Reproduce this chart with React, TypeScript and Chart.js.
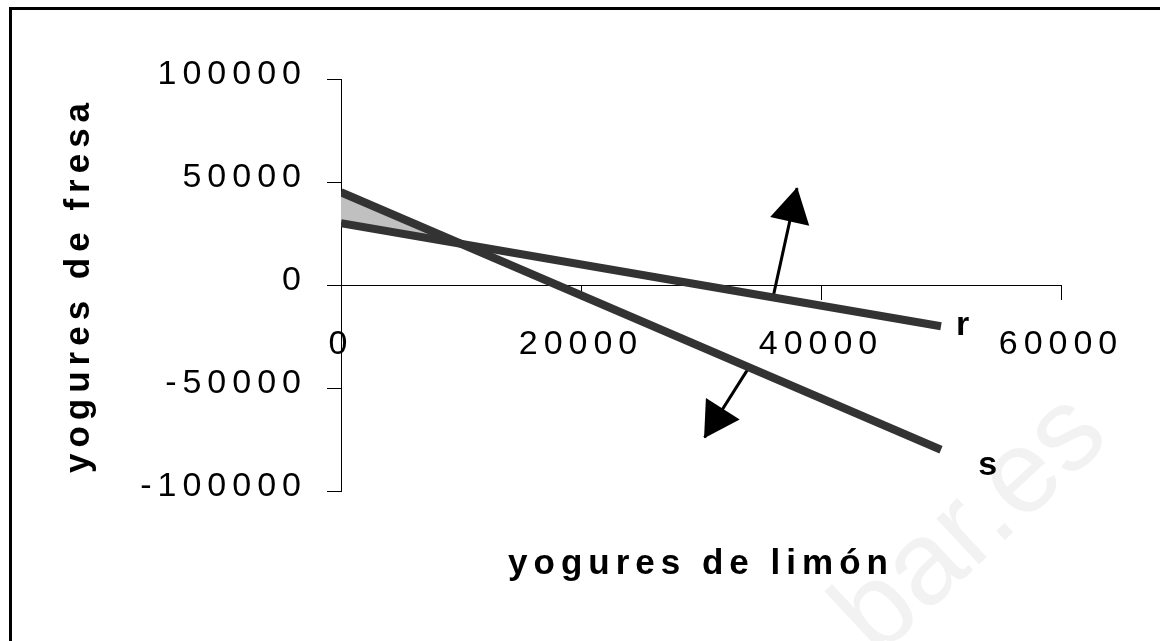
import React, { useEffect, useRef } from 'react';
import { Chart, registerables } from 'chart.js';

Chart.register(...registerables);

// ---- data ----
const xTickValues = [0, 20000, 40000, 60000];
const yTickValues = [-100000, -50000, 0, 50000, 100000];
const lineR = [{ x: 0, y: 30000 }, { x: 50000, y: -20000 }];
const lineS = [{ x: 0, y: 45000 }, { x: 50000, y: -80000 }];
const feasibleRegion = [{ x: 0, y: 30000 }, { x: 0, y: 45000 }, { x: 10000, y: 20000 }];
const arrowR = [{ x: 36000, y: -6000 }, { x: 38000, y: 47000 }];
const arrowS = [{ x: 34000, y: -40000 }, { x: 30300, y: -74000 }];
const lineLabels = ['r', 's'];
const lineLabelX = [51800, 53900];
const lineLabelY = [-19800, -87600];
const xTitle = 'yogures de limón';
const yTitle = 'yogures de fresa';
const watermarkText = 'bar.es';

const FAMILY = "'Liberation Sans', Arial, sans-serif";
const SPACING = '6px';

const letterSpacingPlugin = {
  id: 'letterSpacing',
  beforeLayout(chart: any) { chart.ctx.letterSpacing = SPACING; },
  beforeDraw(chart: any) { chart.ctx.letterSpacing = SPACING; },
};

const watermarkPlugin = {
  id: 'watermark',
  beforeDraw(chart: any) {
    const ctx = chart.ctx;
    ctx.save();
    ctx.letterSpacing = '0px';
    ctx.translate(1112, 440);
    ctx.rotate(-43 * Math.PI / 180);
    ctx.font = `118px ${FAMILY}`;
    ctx.fillStyle = '#f2f2f2';
    ctx.textAlign = 'right';
    ctx.textBaseline = 'alphabetic';
    ctx.fillText(watermarkText, 0, 0);
    ctx.restore();
  },
};

const arrowHeadPlugin = {
  id: 'arrowHeads',
  afterDatasetsDraw(chart: any) {
    const ctx = chart.ctx;
    chart.data.datasets.forEach((ds: any, i: number) => {
      if (!ds.isArrow) return;
      const pts = chart.getDatasetMeta(i).data;
      const a = pts[0];
      const b = pts[1];
      const dx = b.x - a.x;
      const dy = b.y - a.y;
      const len = Math.hypot(dx, dy);
      const ux = dx / len;
      const uy = dy / len;
      const nx = -uy;
      const ny = ux;
      const hl = 34;
      const hw = 20;
      ctx.save();
      ctx.beginPath();
      ctx.moveTo(b.x + ux * 1, b.y + uy * 1);
      ctx.lineTo(b.x - ux * hl + nx * hw, b.y - uy * hl + ny * hw);
      ctx.lineTo(b.x - ux * hl - nx * hw, b.y - uy * hl - ny * hw);
      ctx.closePath();
      ctx.fillStyle = '#000';
      ctx.fill();
      ctx.restore();
    });
  },
};

const lineLabelPlugin = {
  id: 'lineLabels',
  afterDatasetsDraw(chart: any) {
    const { ctx } = chart;
    const xs = chart.scales.x;
    const ys = chart.scales.y;
    ctx.save();
    ctx.letterSpacing = '0px';
    ctx.font = `bold 34px ${FAMILY}`;
    ctx.fillStyle = '#000';
    ctx.textAlign = 'center';
    ctx.textBaseline = 'middle';
    lineLabels.forEach((t, i) => {
      ctx.fillText(t, xs.getPixelForValue(lineLabelX[i]), ys.getPixelForValue(lineLabelY[i]));
    });
    ctx.restore();
  },
};

export default function App() {
  const ref = useRef<HTMLCanvasElement>(null);

  useEffect(() => {
    const canvas = ref.current!;
    const chart = new Chart(canvas, {
      type: 'scatter',
      data: {
        datasets: [
          {
            label: 'r', data: lineR, showLine: true, borderColor: '#333333', backgroundColor: '#333333',
            borderWidth: 8, pointRadius: 0, borderCapStyle: 'butt', fill: false,
          } as any,
          {
            label: 's', data: lineS, showLine: true, borderColor: '#333333', backgroundColor: '#333333',
            borderWidth: 8, pointRadius: 0, borderCapStyle: 'butt', fill: false,
          } as any,
          {
            label: 'arrowR', isArrow: true, data: arrowR, showLine: true, borderColor: '#000', backgroundColor: '#000',
            borderWidth: 3, pointRadius: 0, fill: false,
          } as any,
          {
            label: 'arrowS', isArrow: true, data: arrowS, showLine: true, borderColor: '#000', backgroundColor: '#000',
            borderWidth: 3, pointRadius: 0, fill: false,
          } as any,
          {
            label: 'region', data: feasibleRegion, showLine: true, borderColor: 'rgba(0,0,0,0)', backgroundColor: '#c0c0c0',
            borderWidth: 0, pointRadius: 0, fill: 'shape',
          } as any,
        ],
      },
      options: {
        animation: false,
        responsive: false,
        devicePixelRatio: 1,
        events: [],
        layout: { padding: { left: 40, top: 79, right: 99, bottom: 150 } },
        plugins: {
          legend: { display: false },
          tooltip: { enabled: false },
        },
        scales: {
          x: {
            type: 'linear',
            min: xTickValues[0],
            max: xTickValues[xTickValues.length - 1],
            position: { y: 0 } as any,
            afterBuildTicks: (s: any) => { s.ticks = xTickValues.map((v) => ({ value: v })); },
            afterFit: (s: any) => { s.height = 300; },
            grid: { drawOnChartArea: false, drawTicks: true, tickLength: 14, color: '#000', lineWidth: 1 },
            border: { display: true, color: '#000', width: 1 },
            ticks: {
              color: '#000', font: { family: FAMILY, size: 34 }, padding: 25,
              maxRotation: 0, autoSkip: false, callback: (v: any) => String(v),
            },
            title: {
              display: true, text: xTitle, color: '#000',
              font: { family: FAMILY, size: 35, weight: 'bold' }, padding: { top: 0, bottom: 0 },
            },
          } as any,
          y: {
            type: 'linear',
            min: yTickValues[0],
            max: yTickValues[yTickValues.length - 1],
            position: 'left',
            afterBuildTicks: (s: any) => { s.ticks = yTickValues.map((v) => ({ value: v })); },
            afterFit: (s: any) => { s.width = 301; },
            grid: { drawOnChartArea: false, drawTicks: true, tickLength: 14, color: '#000', lineWidth: 1 },
            border: { display: true, color: '#000', width: 1 },
            ticks: {
              color: '#000', font: { family: FAMILY, size: 34 }, padding: 20, labelOffset: -4,
              autoSkip: false, callback: (v: any) => String(v),
            },
            title: {
              display: true, text: yTitle, color: '#000',
              font: { family: FAMILY, size: 35, weight: 'bold' }, padding: { top: 18, bottom: 0 },
            },
          } as any,
        },
      },
      plugins: [letterSpacingPlugin, watermarkPlugin, arrowHeadPlugin, lineLabelPlugin],
    });
    return () => chart.destroy();
  }, []);

  return (
    <div style={{ position: 'fixed', left: 0, top: 0, width: 1160, height: 641, overflow: 'hidden', background: '#fff' }}>
      <canvas
        ref={ref}
        width={1160}
        height={641}
        style={{ position: 'absolute', left: 0, top: 0, width: 1160, height: 641, display: 'block' }}
      />
      <div
        style={{
          position: 'absolute', left: 9, top: 7, width: 1300, height: 800,
          border: '3px solid #000', pointerEvents: 'none',
        }}
      />
    </div>
  );
}
